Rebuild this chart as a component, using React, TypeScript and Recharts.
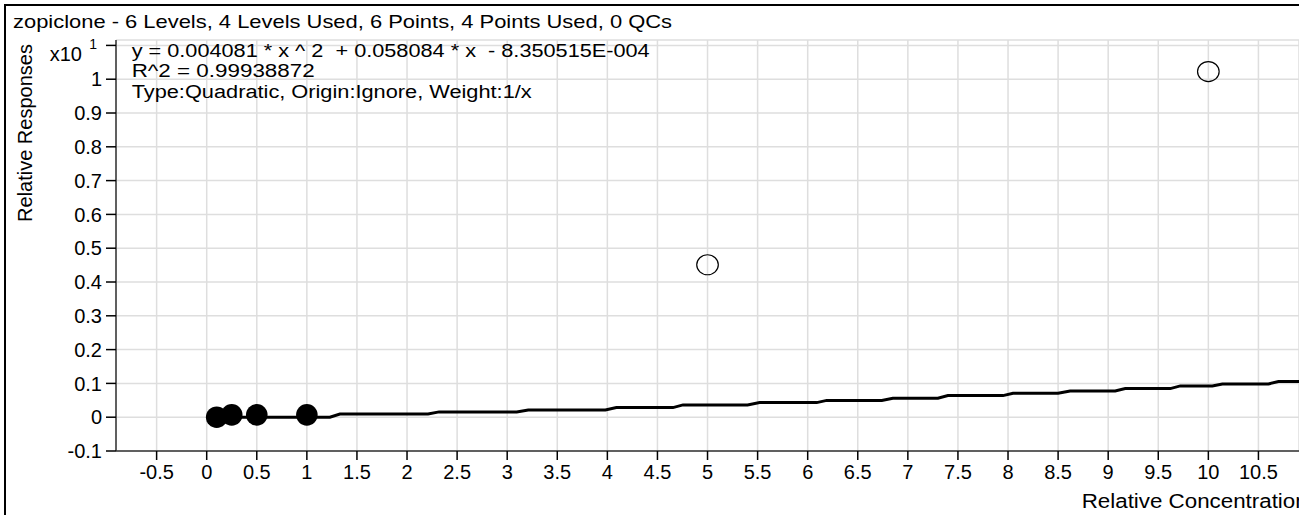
import React from 'react';
import { ComposedChart, Line, Scatter, XAxis, YAxis, CartesianGrid } from 'recharts';

// ---- data (display units, x10^1) ----
const curveX = [0.1, 1.23, 1.33, 2.21, 2.32, 3.095, 3.21, 3.98, 4.09, 4.655, 4.755, 5.4, 5.52, 6.09, 6.19, 6.74, 6.85, 7.3, 7.4, 7.95, 8.05, 8.5, 8.62, 9.07, 9.17, 9.62, 9.72, 10.04, 10.14, 10.6, 10.7, 10.905];
const curveY = [0, 0, 0.0092, 0.0092, 0.0157, 0.0157, 0.0216, 0.0216, 0.0284, 0.0284, 0.0364, 0.0364, 0.0432, 0.0432, 0.0497, 0.0497, 0.0562, 0.0562, 0.0639, 0.0639, 0.071, 0.071, 0.0778, 0.0778, 0.0846, 0.0846, 0.0926, 0.0926, 0.0985, 0.0985, 0.1053, 0.1053];

const usedX = [0.1, 0.25, 0.5, 1];
const usedY = [0, 0.007, 0.007, 0.007];

const excludedX = [5, 10];
const excludedY = [0.451, 1.0225];

const xTicks = [-0.5, 0, 0.5, 1, 1.5, 2, 2.5, 3, 3.5, 4, 4.5, 5, 5.5, 6, 6.5, 7, 7.5, 8, 8.5, 9, 9.5, 10, 10.5];
const yTicks = [-0.1, 0, 0.1, 0.2, 0.3, 0.4, 0.5, 0.6, 0.7, 0.8, 0.9, 1, 1.1];
const yTickLabels = ['-0.1', '0', '0.1', '0.2', '0.3', '0.4', '0.5', '0.6', '0.7', '0.8', '0.9', '1', ''];

const titleText = 'zopiclone - 6 Levels, 4 Levels Used, 6 Points, 4 Points Used, 0 QCs';
const equationText = 'y = 0.004081 * x ^ 2  + 0.058084 * x  - 8.350515E-004';
const r2Text = 'R^2 = 0.99938872';
const typeText = 'Type:Quadratic, Origin:Ignore, Weight:1/x';
const xLabel = 'Relative Concentration';
const yLabel = 'Relative Responses';

const curveData = curveX.map((x, i) => ({ x, y: curveY[i] }));
const usedData = usedX.map((x, i) => ({ x, y: usedY[i] }));
const excludedData = excludedX.map((x, i) => ({ x, y: excludedY[i] }));

const FONT = '"Liberation Sans", Arial, sans-serif';

const YTick = (props: any) => {
  const { x, y, payload } = props;
  const idx = yTicks.indexOf(payload.value);
  if (payload.value === 1.1) {
    return (
      <g>
        <text x={x - 20} y={y + 16} textAnchor="end" fontSize={20} fontFamily={FONT} fill="#000">x10</text>
        <text x={x - 5} y={y + 4} textAnchor="end" fontSize={14} fontFamily={FONT} fill="#000">1</text>
      </g>
    );
  }
  return (
    <text x={x} y={y} dy="0.355em" textAnchor="end" fontSize={20} fontFamily={FONT} fill="#000">
      {yTickLabels[idx]}
    </text>
  );
};

const XTick = (props: any) => {
  const { x, y, payload } = props;
  return (
    <text x={x} y={y} dy="0.71em" textAnchor="middle" fontSize={20} fontFamily={FONT} fill="#000">
      {String(payload.value)}
    </text>
  );
};

const FilledDot = (props: any) => {
  const { cx, cy } = props;
  return <circle cx={cx} cy={cy} r={10.8} fill="#000" />;
};

const OpenDot = (props: any) => {
  const { cx, cy } = props;
  return <ellipse cx={cx} cy={cy} rx={10.8} ry={10} fill="none" stroke="#000" strokeWidth={1.2} />;
};

export default function App() {
  return (
    <div
      style={{
        position: 'absolute',
        left: 0,
        top: 0,
        width: 1299,
        height: 515,
        overflow: 'hidden',
        background: '#fff',
        fontFamily: FONT,
      }}
    >
      <div
        style={{
          position: 'absolute',
          left: 4,
          top: 4,
          width: 1400,
          height: 700,
          border: '2px solid #000',
        }}
      />
      <div style={{ position: 'absolute', left: 0, top: 0 }}>
        <ComposedChart
          width={1299}
          height={515}
          margin={{ top: 40, right: 0, bottom: 24, left: 16 }}
        >
          <CartesianGrid stroke="#dedede" strokeWidth={1.5} />
          <XAxis
            type="number"
            dataKey="x"
            domain={[-0.9055, 10.905]}
            ticks={xTicks}
            interval={0}
            height={40}
            tickSize={9}
            tickMargin={5}
            axisLine={{ stroke: '#333', strokeWidth: 1.5 }}
            tickLine={{ stroke: '#000', strokeWidth: 1.5 }}
            tick={<XTick />}
            allowDataOverflow
          />
          <YAxis
            type="number"
            dataKey="y"
            domain={[-0.1, 1.116]}
            ticks={yTicks}
            interval={0}
            width={100}
            tickSize={10}
            tickMargin={4}
            axisLine={{ stroke: '#333', strokeWidth: 1.5 }}
            tickLine={{ stroke: '#000', strokeWidth: 1.5 }}
            tick={<YTick />}
            allowDataOverflow
          />
          <Line
            data={curveData}
            dataKey="y"
            type="linear"
            stroke="#000"
            strokeWidth={3}
            dot={false}
            activeDot={false}
            isAnimationActive={false}
          />
          <Scatter data={usedData} dataKey="y" shape={<FilledDot />} isAnimationActive={false} />
          <Scatter data={excludedData} dataKey="y" shape={<OpenDot />} isAnimationActive={false} />
        </ComposedChart>
      </div>
      <svg
        width={1299}
        height={515}
        style={{ position: 'absolute', left: 0, top: 0, pointerEvents: 'none' }}
      >
        <text x={13} y={28} fontSize={19} fontFamily={FONT} fill="#000" textLength={659} lengthAdjust="spacingAndGlyphs">
          {titleText}
        </text>
        <text x={131.7} y={57} fontSize={18} fontFamily={FONT} fill="#000" style={{ whiteSpace: 'pre' }} textLength={518} lengthAdjust="spacingAndGlyphs">
          {equationText}
        </text>
        <text x={131.7} y={77} fontSize={18} fontFamily={FONT} fill="#000" textLength={183} lengthAdjust="spacingAndGlyphs">
          {r2Text}
        </text>
        <text x={131.7} y={98.3} fontSize={18} fontFamily={FONT} fill="#000" textLength={400} lengthAdjust="spacingAndGlyphs">
          {typeText}
        </text>
        <text x={1081.7} y={508} fontSize={20} fontFamily={FONT} fill="#000" textLength={226} lengthAdjust="spacingAndGlyphs">
          {xLabel}
        </text>
        <text
          x={0}
          y={0}
          transform="translate(32,133) rotate(-90)"
          textAnchor="middle"
          fontSize={20}
          fontFamily={FONT}
          fill="#000"
        >
          {yLabel}
        </text>
      </svg>
    </div>
  );
}
